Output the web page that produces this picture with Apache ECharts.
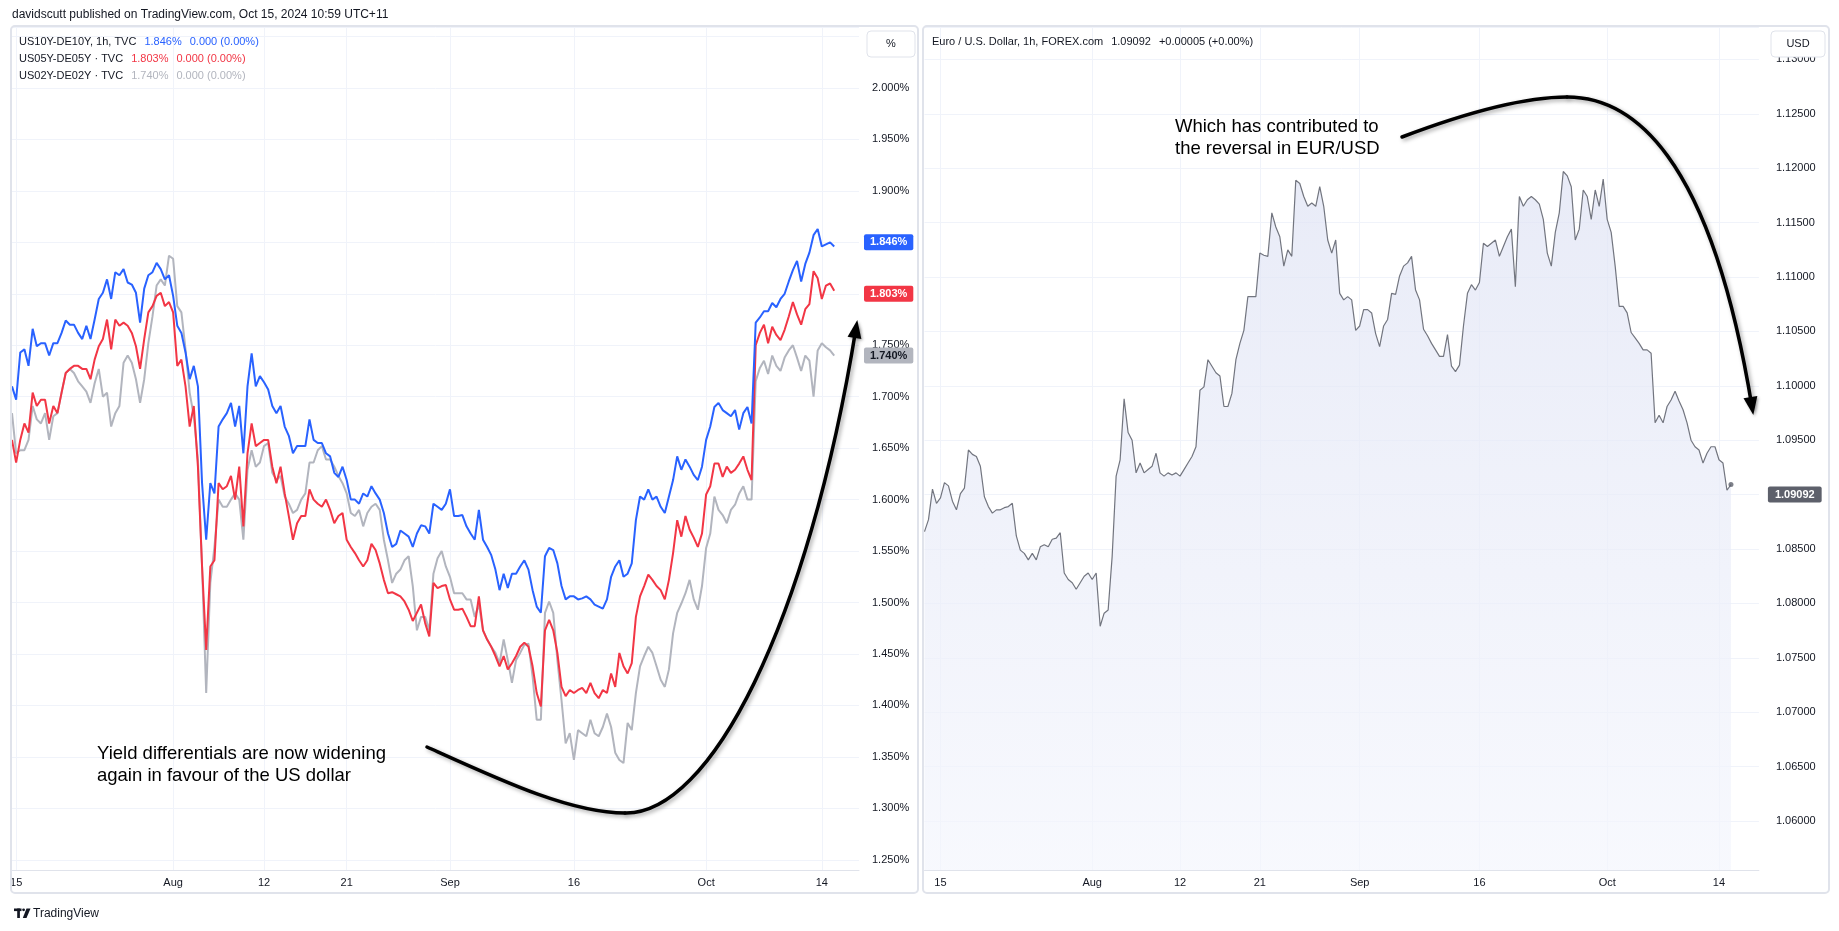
<!DOCTYPE html>
<html><head><meta charset="utf-8">
<script src="https://cdn.jsdelivr.net/npm/echarts@6/dist/echarts.min.js"></script>
<style>html,body{margin:0;padding:0;background:#fff;}#c{width:1839px;height:931px;}</style>
</head><body><div id="c"></div>
<script>
// ---------- DATA ----------
// Time axis: 1h bars grouped in 8-hour slots (UTC+11 session days)
const MONTHS = ['Jan','Feb','Mar','Apr','May','Jun','Jul','Aug','Sep','Oct','Nov','Dec'];
const SESSION_SLOTS = {1:['08:00','16:00'],2:['00:00','08:00','16:00'],3:['00:00','08:00','16:00'],4:['00:00','08:00','16:00'],5:['00:00','08:00','16:00'],6:['00:00']};
const tickDays = ['Jul 15','Aug 1','Aug 12','Aug 21','Sep 2','Sep 16','Oct 1','Oct 14'];
const tickLabels = ['15','Aug','12','21','Sep','16','Oct','14'];
const leftTicks = [1.25,1.30,1.35,1.40,1.45,1.50,1.55,1.60,1.65,1.70,1.75,1.80,1.85,1.90,1.95,2.00];

// US10Y-DE10Y (starts Sat Jul 13 00:00 slot)
const us10 = [
1.710,1.697,1.743,1.746,1.730,1.766,1.749,1.752,1.752,1.740,
1.752,1.752,1.762,1.774,1.770,1.770,1.762,1.756,1.769,1.756,
1.775,1.795,1.801,1.814,1.795,1.821,1.818,1.824,1.811,1.809,
1.801,1.772,1.805,1.818,1.821,1.830,1.824,1.814,1.818,1.798,
1.769,1.762,1.743,1.717,1.730,1.710,1.616,1.561,1.616,1.606,
1.671,1.678,1.684,1.694,1.671,1.691,1.645,1.710,1.742,1.710,
1.720,1.714,1.707,1.691,1.684,1.691,1.671,1.662,1.645,1.652,
1.652,1.652,1.678,1.658,1.655,1.655,1.645,1.642,1.626,1.622,
1.632,1.619,1.600,1.600,1.596,1.606,1.603,1.613,1.606,1.600,
1.587,1.567,1.554,1.557,1.570,1.567,1.564,1.554,1.567,1.575,
1.574,1.567,1.596,1.593,1.590,1.596,1.610,1.584,1.584,1.585,
1.574,1.567,1.561,1.590,1.561,1.554,1.546,1.532,1.512,1.528,
1.514,1.528,1.528,1.535,1.541,1.532,1.512,1.496,1.490,1.545,
1.553,1.551,1.538,1.516,1.503,1.506,1.506,1.503,1.504,1.506,
1.503,1.498,1.496,1.494,1.503,1.525,1.535,1.541,1.525,1.528,
1.538,1.580,1.603,1.600,1.610,1.600,1.603,1.593,1.587,1.603,
1.619,1.642,1.629,1.639,1.632,1.624,1.619,1.632,1.658,1.671,
1.690,1.694,1.687,1.684,1.681,1.687,1.668,1.684,1.690,1.674,
1.772,1.777,1.783,1.783,1.791,1.787,1.795,1.800,1.812,1.823,
1.832,1.812,1.829,1.840,1.857,1.863,1.846,1.848,1.850,1.846];

// US05Y-DE05Y
const us05 = [
1.658,1.636,1.658,1.674,1.665,1.704,1.691,1.697,1.697,1.674,
1.691,1.684,1.704,1.723,1.727,1.730,1.730,1.727,1.727,1.717,
1.736,1.749,1.756,1.775,1.746,1.775,1.769,1.772,1.769,1.762,
1.749,1.727,1.756,1.782,1.788,1.798,1.801,1.788,1.792,1.782,
1.730,1.736,1.710,1.671,1.691,1.632,1.535,1.454,1.535,1.541,
1.616,1.610,1.613,1.623,1.600,1.632,1.574,1.645,1.674,1.652,
1.655,1.658,1.658,1.632,1.616,1.632,1.606,1.584,1.561,1.577,
1.584,1.584,1.610,1.600,1.596,1.593,1.600,1.590,1.577,1.584,
1.587,1.561,1.554,1.548,1.541,1.535,1.541,1.557,1.551,1.538,
1.522,1.509,1.510,1.508,1.506,1.501,1.493,1.482,1.490,1.498,
1.480,1.467,1.519,1.514,1.516,1.517,1.503,1.493,1.493,1.494,
1.486,1.477,1.477,1.506,1.473,1.464,1.457,1.448,1.438,1.448,
1.435,1.441,1.448,1.457,1.461,1.457,1.438,1.412,1.399,1.473,
1.483,1.473,1.451,1.418,1.409,1.415,1.412,1.415,1.417,1.412,
1.422,1.412,1.407,1.415,1.412,1.431,1.418,1.451,1.438,1.431,
1.441,1.486,1.506,1.516,1.527,1.522,1.516,1.512,1.503,1.522,
1.548,1.580,1.564,1.584,1.571,1.563,1.554,1.567,1.605,1.613,
1.635,1.635,1.622,1.632,1.626,1.629,1.635,1.642,1.629,1.619,
1.750,1.762,1.770,1.752,1.768,1.760,1.755,1.765,1.778,1.792,
1.780,1.770,1.785,1.790,1.822,1.815,1.795,1.808,1.810,1.803];

// US02Y-DE02Y
const us02 = [
1.684,1.645,1.648,1.648,1.658,1.691,1.678,1.674,1.684,1.658,
1.681,1.684,1.704,1.723,1.727,1.723,1.715,1.710,1.705,1.694,
1.713,1.727,1.700,1.704,1.671,1.684,1.691,1.733,1.740,1.733,
1.717,1.694,1.717,1.752,1.778,1.808,1.814,1.808,1.837,1.834,
1.788,1.782,1.746,1.704,1.681,1.639,1.535,1.412,1.519,1.554,
1.600,1.593,1.593,1.600,1.606,1.600,1.561,1.629,1.648,1.632,
1.636,1.652,1.655,1.626,1.619,1.623,1.603,1.596,1.587,1.590,
1.600,1.606,1.636,1.636,1.648,1.652,1.639,1.639,1.632,1.623,
1.616,1.606,1.587,1.584,1.590,1.574,1.587,1.593,1.596,1.590,
1.561,1.541,1.519,1.528,1.532,1.541,1.545,1.516,1.473,1.486,
1.486,1.473,1.528,1.543,1.550,1.535,1.525,1.509,1.509,1.509,
1.503,1.503,1.486,1.498,1.473,1.464,1.457,1.451,1.441,1.464,
1.444,1.422,1.444,1.451,1.459,1.460,1.428,1.386,1.386,1.490,
1.501,1.490,1.444,1.405,1.363,1.373,1.347,1.376,1.373,1.370,
1.386,1.373,1.370,1.379,1.392,1.379,1.354,1.347,1.344,1.383,
1.376,1.412,1.438,1.448,1.457,1.451,1.438,1.425,1.418,1.435,
1.470,1.490,1.499,1.509,1.522,1.503,1.493,1.516,1.553,1.567,
1.603,1.590,1.585,1.577,1.590,1.595,1.606,1.613,1.600,1.600,
1.715,1.728,1.735,1.722,1.740,1.730,1.725,1.738,1.745,1.750,
1.738,1.725,1.740,1.735,1.700,1.745,1.752,1.748,1.745,1.740];

// EUR/USD (starts Fri Jul 12 00:00 slot)
const eurusd = [1.0866,
1.0877,1.0905,1.0892,1.0897,1.0911,1.0908,1.0894,1.0886,1.0901,1.0906,
1.0941,1.0937,1.0935,1.0926,1.0898,1.0889,1.0883,1.0886,1.0886,1.0888,
1.0889,1.0892,1.0862,1.0849,1.0846,1.0840,1.0846,1.0840,1.0852,1.0854,
1.0852,1.0859,1.0860,1.0865,1.0828,1.0822,1.0819,1.0813,1.0819,1.0825,
1.0828,1.0822,1.0828,1.0779,1.0791,1.0794,1.0843,1.0917,1.0932,1.0988,
1.0957,1.0950,1.0920,1.0929,1.0920,1.0923,1.0926,1.0938,1.0920,1.0917,
1.0920,1.0918,1.0920,1.0917,1.0923,1.0929,1.0935,1.0944,1.0996,1.0999,
1.1024,1.1018,1.1012,1.1009,1.0981,1.0981,1.0993,1.1024,1.1039,1.1051,
1.1082,1.1082,1.1082,1.1122,1.1120,1.1119,1.1159,1.1146,1.1137,1.1110,
1.1125,1.1119,1.1189,1.1186,1.1174,1.1165,1.1168,1.1165,1.1183,1.1165,
1.1134,1.1122,1.1134,1.1085,1.1079,1.1082,1.1079,1.1051,1.1055,1.1070,
1.1070,1.1067,1.1048,1.1036,1.1055,1.1061,1.1085,1.1084,1.1101,1.1110,
1.1113,1.1119,1.1088,1.1079,1.1052,1.1046,1.1039,1.1033,1.1027,1.1027,
1.1047,1.1018,1.1013,1.1019,1.1055,1.1085,1.1093,1.1088,1.1095,1.1131,
1.1128,1.1131,1.1134,1.1119,1.1128,1.1137,1.1144,1.1091,1.1174,1.1165,
1.1171,1.1174,1.1171,1.1167,1.1153,1.1122,1.1110,1.1141,1.1159,1.1197,
1.1193,1.1183,1.1134,1.1144,1.1180,1.1174,1.1153,1.1180,1.1165,1.1190,
1.1153,1.1141,1.1110,1.1073,1.1073,1.1067,1.1049,1.1044,1.1039,1.1033,
1.1033,1.1030,1.0966,1.0973,1.0966,1.0981,1.0987,1.0995,1.0986,1.0978,
1.0966,1.0950,1.0944,1.0941,1.0929,1.0938,1.0944,1.0944,1.0932,1.0929,
1.0904,1.09092];

// ---------- BUILD ----------
const categories = [];
for (let d = new Date(Date.UTC(2024,6,12)); d <= new Date(Date.UTC(2024,9,17)); d.setUTCDate(d.getUTCDate()+1)) {
  const slots = SESSION_SLOTS[d.getUTCDay()];
  if (!slots) continue;
  const day = MONTHS[d.getUTCMonth()] + ' ' + d.getUTCDate();
  slots.forEach(h => categories.push(day + ' ' + h));
}
const labelMap = {};
tickDays.forEach((td, j) => {
  const c = categories.find(s => s.startsWith(td + ' '));
  if (c) labelMap[c] = tickLabels[j];
});
const showTick = (idx, val) => labelMap[val] !== undefined;
const leftLead = 3; // us series begin at the 4th slot
const padL = a => new Array(leftLead).fill(null).concat(a);
const last = a => a[a.length - 1];

const FONT = '"Liberation Sans", Arial, sans-serif';
const TXT = '#131722';
const GRID_C = '#f0f3fa';
const BLUE = '#2962ff', RED = '#f23645', GRAY = '#b2b5be';

function xAxisCfg(gi, mn, mx) {
  return {
    gridIndex: gi, type: 'category', data: categories, boundaryGap: false, min: mn, max: mx,
    axisLine: { show: true, lineStyle: { color: '#e0e3eb' } },
    axisTick: { show: false },
    axisLabel: { interval: showTick, formatter: v => labelMap[v] || '', color: TXT, fontSize: 11, fontFamily: FONT, margin: 7 },
    splitLine: { show: true, interval: showTick, lineStyle: { color: GRID_C, width: 1 } }
  };
}
function tag(val, text, bg, fg, dist, padX) {
  return {
    silent: true, symbol: ['none', 'none'], animation: false,
    lineStyle: { color: 'rgba(0,0,0,0)', width: 0, type: 'solid' },
    emphasis: { disabled: true },
    label: { show: true, position: 'end', distance: dist, formatter: text, backgroundColor: bg, color: fg,
             padding: [3, padX, 2, padX], fontSize: 11, fontWeight: 'bold', fontFamily: FONT, borderRadius: 2 },
    data: [{ yAxis: val }]
  };
}
function lineSeries(name, data, color, tagFg) {
  const v = last(data);
  return {
    name, type: 'line', xAxisIndex: 0, yAxisIndex: 0, data: padL(data), clip: false,
    symbol: 'none', showSymbol: false, connectNulls: false,
    lineStyle: { color, width: 2 }, itemStyle: { color },
    markLine: tag(v, v.toFixed(3) + '%', color, tagFg, 5, 6),
    z: 3
  };
}

// arrow helper (annotation only)
function arrow(p0, c1, c2, p1, q1, q2, p2) {
  const st = { stroke: '#000', lineWidth: 3.5, fill: 'none', lineCap: 'round',
               shadowBlur: 4, shadowColor: 'rgba(0,0,0,0.35)', shadowOffsetX: 2, shadowOffsetY: 2 };
  const dx = p2[0] - q2[0], dy = p2[1] - q2[1], L = Math.hypot(dx, dy);
  const ux = dx / L, uy = dy / L, nx = -uy, ny = ux;
  const bx = p2[0] - ux * 16, by = p2[1] - uy * 16;
  return [
    { type: 'bezierCurve', z: 50, shape: { x1: p0[0], y1: p0[1], cpx1: c1[0], cpy1: c1[1], cpx2: c2[0], cpy2: c2[1], x2: p1[0], y2: p1[1] }, style: st },
    { type: 'bezierCurve', z: 50, shape: { x1: p1[0], y1: p1[1], cpx1: q1[0], cpy1: q1[1], cpx2: q2[0], cpy2: q2[1], x2: p2[0] - ux * 6, y2: p2[1] - uy * 6 }, style: st },
    { type: 'polygon', z: 51, shape: { points: [[p2[0] + ux * 2, p2[1] + uy * 2], [bx + nx * 7, by + ny * 7], [bx - nx * 7, by - ny * 7]] },
      style: { fill: '#000', shadowBlur: 3, shadowColor: 'rgba(0,0,0,0.3)', shadowOffsetX: 1.5, shadowOffsetY: 1.5 } }
  ];
}

const isTick = (v, step) => Math.abs(v / step - Math.round(v / step)) < 1e-6;
function legendText(y, x, label, values, col) {
  return { type: 'text', x, y, z: 60, style: {
    text: '{n|' + label + '}' + values.map(v => '{b|' + v + '}').join(''),
    textVerticalAlign: 'middle', font: '11px ' + FONT,
    rich: { n: { fill: TXT, fontSize: 11, fontFamily: FONT }, b: { fill: col, fontSize: 11, fontFamily: FONT, padding: [0, 0, 0, 8] } } } };
}

const option = {
  animation: false,
  backgroundColor: '#ffffff',
  textStyle: { fontFamily: FONT },
  grid: [
    { left: 12, top: 27, width: 847, height: 843 },
    { left: 924.5, top: 27, width: 834.4, height: 843 }
  ],
  xAxis: [ xAxisCfg(0, 3, 208), xAxisCfg(1, 0, 209) ],
  yAxis: [
    { gridIndex: 0, type: 'value', position: 'right', min: 1.24004, max: 2.05928,
      minInterval: 0.05, maxInterval: 0.05, splitNumber: 16, scale: true,
      axisLine: { show: false }, axisTick: { show: false },
      axisLabel: { margin: 13, color: TXT, fontSize: 11, fontFamily: FONT,
                   formatter: v => (isTick(v, 0.05) && leftTicks.some(t => Math.abs(t - v) < 1e-6)) ? v.toFixed(3) + '%' : '' },
      splitLine: { lineStyle: { color: GRID_C } } },
    { gridIndex: 1, type: 'value', position: 'right', min: 1.055496, max: 1.13298,
      minInterval: 0.005, maxInterval: 0.005, splitNumber: 16, scale: true,
      axisLine: { show: false }, axisTick: { show: false },
      axisLabel: { margin: 17, color: TXT, fontSize: 11, fontFamily: FONT,
                   formatter: v => isTick(v, 0.005) ? v.toFixed(5) : '' },
      splitLine: { lineStyle: { color: GRID_C } } }
  ],
  series: [
    lineSeries('US02Y-DE02Y', us02, GRAY, TXT),
    lineSeries('US05Y-DE05Y', us05, RED, '#ffffff'),
    lineSeries('US10Y-DE10Y', us10, BLUE, '#ffffff'),
    {
      name: 'EURUSD', type: 'line', xAxisIndex: 1, yAxisIndex: 1, data: eurusd, clip: false,
      symbol: 'none', showSymbol: false,
      lineStyle: { color: '#72757f', width: 1.2 }, itemStyle: { color: '#72757f' },
      areaStyle: { color: { type: 'linear', x: 0, y: 0, x2: 0, y2: 1,
        colorStops: [{ offset: 0, color: '#dfe3f4' }, { offset: 1, color: '#f4f6fd' }] } },
      markLine: tag(last(eurusd), last(eurusd).toFixed(5), '#5d606b', '#ffffff', 9, 7),
      z: 3
    },
    {
      type: 'scatter', xAxisIndex: 1, yAxisIndex: 1, symbolSize: 5, silent: true,
      itemStyle: { color: '#5d606b' },
      data: [[eurusd.length - 1, last(eurusd)]], z: 4
    }
  ],
  graphic: [
    // header
    { type: 'text', x: 12, y: 15, z: 60, style: { text: 'davidscutt published on TradingView.com, Oct 15, 2024 10:59 UTC+11', fill: TXT, font: '12px ' + FONT, textVerticalAlign: 'middle' } },
    // pane frames
    { type: 'rect', z: 40, shape: { x: 11, y: 26, width: 907, height: 867, r: 4 }, style: { fill: 'none', stroke: '#e0e3eb', lineWidth: 2 } },
    { type: 'rect', z: 40, shape: { x: 923, y: 26, width: 906, height: 867, r: 4 }, style: { fill: 'none', stroke: '#e0e3eb', lineWidth: 2 } },
    // legends
    legendText(42, 19, 'US10Y-DE10Y, 1h, TVC', [last(us10).toFixed(3) + '%', '0.000 (0.00%)'], BLUE),
    legendText(59, 19, 'US05Y-DE05Y \u00b7 TVC', [last(us05).toFixed(3) + '%', '0.000 (0.00%)'], RED),
    legendText(76, 19, 'US02Y-DE02Y \u00b7 TVC', [last(us02).toFixed(3) + '%', '0.000 (0.00%)'], GRAY),
    legendText(42, 932, 'Euro / U.S. Dollar, 1h, FOREX.com', [last(eurusd).toFixed(5), '+0.00005 (+0.00%)'], TXT),
    // unit boxes
    { type: 'rect', z: 60, shape: { x: 867, y: 31, width: 48, height: 26, r: 4 }, style: { fill: '#ffffff', stroke: '#e0e3eb', lineWidth: 1 } },
    { type: 'text', x: 891, y: 44, z: 61, style: { text: '%', fill: TXT, font: '11px ' + FONT, textAlign: 'center', textVerticalAlign: 'middle' } },
    { type: 'rect', z: 60, shape: { x: 1771, y: 31, width: 54, height: 26, r: 4 }, style: { fill: '#ffffff', stroke: '#e0e3eb', lineWidth: 1 } },
    { type: 'text', x: 1798, y: 44, z: 61, style: { text: 'USD', fill: TXT, font: '11px ' + FONT, textAlign: 'center', textVerticalAlign: 'middle' } },
    // annotations
    { type: 'text', x: 97, y: 743, z: 60, style: { text: 'Yield differentials are now widening\nagain in favour of the US dollar', fill: '#000', font: '18.5px ' + FONT, lineHeight: 22, textVerticalAlign: 'top' } },
    { type: 'text', x: 1175, y: 115.5, z: 60, style: { text: 'Which has contributed to\nthe reversal in EUR/USD', fill: '#000', font: '18.5px ' + FONT, lineHeight: 22, textVerticalAlign: 'top' } },
    ...arrow([427, 747], [500, 780], [570, 813], [625, 813], [710, 815], [808, 625], [857, 322]),
    ...arrow([1402, 137], [1460, 115], [1520, 97], [1567, 97], [1630, 97], [1710, 150], [1753, 413]),
    // TradingView logo
    { type: 'rect', z: 60, shape: { x: 14, y: 908.5, width: 7.5, height: 2.6 }, style: { fill: '#131722' } },
    { type: 'rect', z: 60, shape: { x: 17.2, y: 908.5, width: 2.7, height: 9.5 }, style: { fill: '#131722' } },
    { type: 'circle', z: 60, shape: { cx: 23.6, cy: 909.8, r: 1.4 }, style: { fill: '#131722' } },
    { type: 'polygon', z: 60, shape: { points: [[26.5, 908.5], [30.5, 908.5], [26.5, 918], [22.8, 918]] }, style: { fill: '#131722' } },
    { type: 'text', x: 33, y: 913.5, z: 60, style: { text: 'TradingView', fill: TXT, font: '12px ' + FONT, textVerticalAlign: 'middle' } }
  ]
};

const chart = echarts.init(document.getElementById('c'), null, { renderer: 'canvas', width: 1839, height: 931 });
chart.setOption(option);
</script></body></html>
